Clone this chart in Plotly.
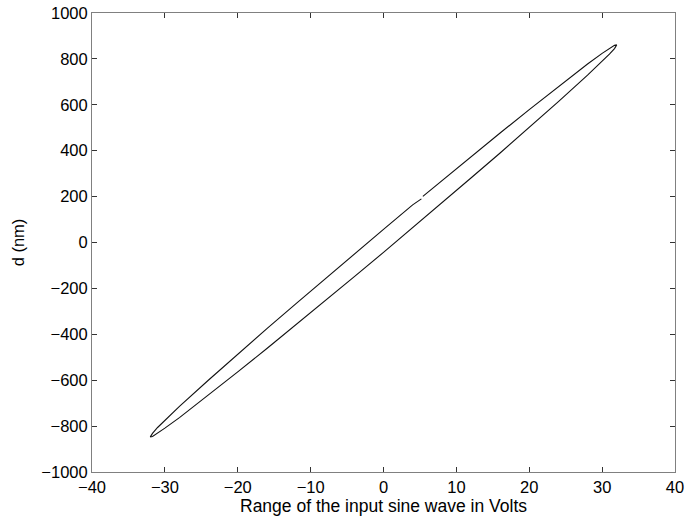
import plotly.graph_objects as go

# Hysteresis loop (volts, nm), traced as one path
loop_volts = [5.4, 8, 12, 16, 20, 24, 28, 30, 31, 31.7, 32,
              31.7, 31, 30, 28, 24, 20, 16, 12, 8, 4, 0,
              -4, -8, -12, -16, -20, -24, -28, -30, -31, -31.7, -32,
              -31.7, -31, -30, -28, -24, -20, -16, -12, -8, -4, 0, 4, 5.2]
loop_nm = [201, 269, 374, 477, 579, 680, 778, 824, 846, 859, 861,
           845, 821, 789, 729, 614, 501, 390, 281, 172, 64, -43,
           -149, -254, -359, -462, -564, -665, -763, -809, -831, -845, -847,
           -832, -806, -774, -714, -599, -486, -375, -266, -157, -50, 57, 164, 190]

x_ticks = [-40, -30, -20, -10, 0, 10, 20, 30, 40]
y_ticks = [-1000, -800, -600, -400, -200, 0, 200, 400, 600, 800, 1000]

x_title = "Range of the input sine wave in Volts"
y_title = "d (nm)"

fig = go.Figure()
fig.add_trace(go.Scatter(x=loop_volts, y=loop_nm, mode="lines",
                         line=dict(color="#111111", width=1.1), showlegend=False))

axis_common = dict(showgrid=False, zeroline=False, showline=True, linecolor="#808080",
                   linewidth=1, mirror="ticks", ticks="inside", ticklen=5,
                   tickcolor="#333333", tickwidth=1, automargin=False,
                   tickfont=dict(family="Liberation Sans, Arial, sans-serif", size=16.5, color="#000"))

fig.update_layout(
    width=700, height=522,
    margin=dict(l=92, r=25, t=13, b=50),
    paper_bgcolor="white", plot_bgcolor="white",
    font=dict(family="Liberation Sans, Arial, sans-serif", color="#000"),
    xaxis=dict(range=[-40, 40], tickvals=x_ticks, ticktext=[str(v).replace("-", "\u2212") for v in x_ticks],
               title=dict(text=x_title, font=dict(size=17.5), standoff=4), **axis_common),
    yaxis=dict(range=[-1000, 1000], tickvals=y_ticks, ticktext=[str(v).replace("-", "\u2212") for v in y_ticks],
               title=dict(text=y_title, font=dict(size=16.5), standoff=12), **axis_common),
)

fig.write_html("out.html")
